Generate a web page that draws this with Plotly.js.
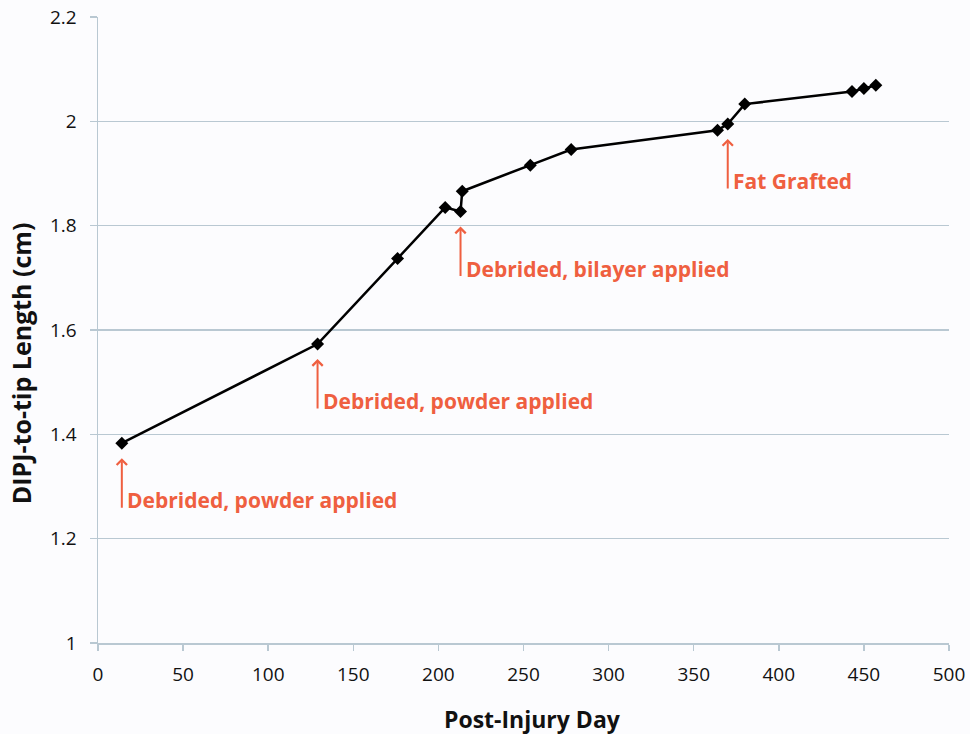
<!DOCTYPE html>
<html>
<head>
<meta charset="utf-8">
<script src="https://cdn.plot.ly/plotly-3.0.1.min.js"></script>
<style>html,body{margin:0;padding:0;background:#fcfcfe;}#chart{width:970px;height:734px;}</style>
</head>
<body>
<div id="chart"></div>
<script>
// Data
const days = [14, 129, 176, 204, 213, 214, 254, 278, 364, 370, 380, 443, 450, 457];
const lengths = [1.383, 1.573, 1.737, 1.835, 1.827, 1.866, 1.916, 1.946, 1.983, 1.995, 2.033, 2.057, 2.063, 2.069];

// Event annotations: the day and length of the point the arrow points at
const eventDays = [14, 129, 213, 370];
const eventLengths = [1.383, 1.573, 1.827, 1.995];
const eventLabels = ["Debrided, powder applied", "Debrided, powder applied", "Debrided, bilayer applied", "Fat Grafted"];

const xTicks = [0, 50, 100, 150, 200, 250, 300, 350, 400, 450, 500];
const yTicks = [1, 1.2, 1.4, 1.6, 1.8, 2, 2.2];
const yTickText = ["1", "1.2", "1.4", "1.6", "1.8", "2", "2.2"];

const FONT = "'Open Sans', Lato, sans-serif";
const RED = "#ef5f40";
const GRID = "#b9c8d2";

const trace = {
  x: days, y: lengths, type: "scatter", mode: "lines+markers",
  line: {color: "#000000", width: 2.5},
  marker: {symbol: "diamond", size: 10, color: "#000000"},
  hoverinfo: "x+y", showlegend: false
};

const annotations = [];
eventDays.forEach((d, i) => {
  annotations.push({
    x: d, y: eventLengths[i], xref: "x", yref: "y",
    text: "", showarrow: true, arrowhead: 4, arrowsize: 1, arrowwidth: 2,
    arrowcolor: RED, ax: 0, ay: 66, standoff: 15
  });
  annotations.push({
    x: d, y: eventLengths[i], xref: "x", yref: "y",
    text: "<b>" + eventLabels[i] + "</b>", showarrow: false,
    xanchor: "left", yanchor: "middle", xshift: 3, yshift: -57,
    font: {family: FONT, size: 21, color: RED}
  });
});
annotations.push({
  x: -0.0905, y: 0.447, xref: "paper", yref: "paper", showarrow: false,
  text: "<b>DIPJ-to-tip Length (cm)</b>", textangle: -90,
  xanchor: "center", yanchor: "middle",
  font: {family: FONT, size: 25, color: "#111111"}
});
annotations.push({
  x: 0.511, y: -0.1214, xref: "paper", yref: "paper", showarrow: false,
  text: "<b>Post-Injury Day</b>",
  xanchor: "center", yanchor: "middle",
  font: {family: FONT, size: 23, color: "#111111"}
});

const layout = {
  width: 970, height: 734,
  margin: {l: 98, r: 21, t: 17, b: 91},
  paper_bgcolor: "#fcfcfe", plot_bgcolor: "#fcfcfe",
  font: {family: FONT, size: 19, color: "#111111"},
  xaxis: {
    range: [0, 500], tickvals: xTicks, ticktext: xTicks.map(String),
    showgrid: false, zeroline: false, showline: true, linecolor: GRID, linewidth: 1.5,
    ticks: "outside", ticklen: 6, tickcolor: GRID, tickwidth: 1.5, ticklabelstandoff: 8,
    tickfont: {family: FONT, size: 19, color: "#111111"}, fixedrange: true
  },
  yaxis: {
    range: [1, 2.2], tickvals: yTicks, ticktext: yTickText,
    showgrid: true, gridcolor: GRID, gridwidth: 1.5, zeroline: false,
    showline: true, linecolor: GRID, linewidth: 1.5,
    ticks: "outside", ticklen: 7, tickcolor: GRID, tickwidth: 1.5, ticklabelstandoff: 9,
    tickfont: {family: FONT, size: 19, color: "#111111"}, fixedrange: true
  },
  annotations: annotations
};

Plotly.newPlot("chart", [trace], layout, {displayModeBar: false, staticPlot: true});
</script>
</body>
</html>
